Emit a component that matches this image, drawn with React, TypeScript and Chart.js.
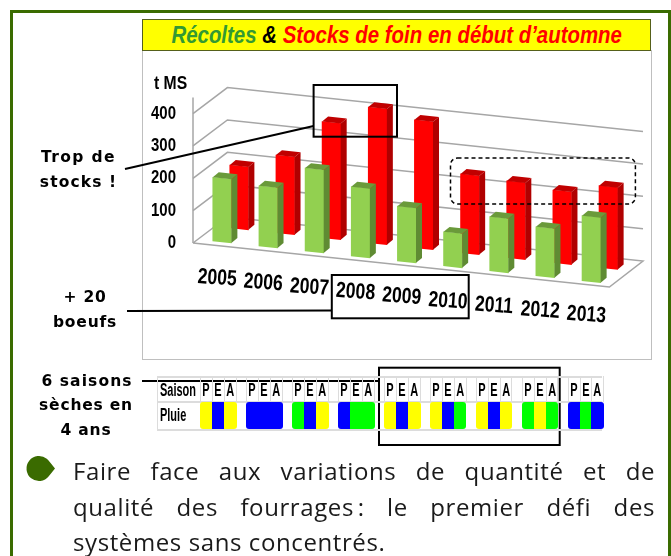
import React, { useEffect, useRef } from "react";
import { Chart, registerables } from "chart.js";

Chart.register(...registerables);

const years = ["2005", "2006", "2007", "2008", "2009", "2010", "2011", "2012", "2013"];
const recoltes = [197, 186, 256, 214, 169, 105, 167, 151, 201];
const stocks = [194, 240, 359, 419, 395, 243, 237, 224, 253];
const saisons = ["P", "E", "A"];
const pluie = [
  ["Y", "B", "Y"],
  ["B", "B", "B"],
  ["G", "B", "Y"],
  ["B", "G", "G"],
  ["Y", "B", "Y"],
  ["Y", "B", "G"],
  ["Y", "B", "Y"],
  ["G", "Y", "G"],
  ["B", "G", "B"],
];
const pluieColors: Record<string, string> = { Y: "#ffff00", B: "#0000ff", G: "#00ff00" };

const SANS = "'Liberation Sans', sans-serif";
const HAND = "'DejaVu Sans', sans-serif";
const SLOPE = 0.1075;
const FRAME = "#3a6b00";

const faces = [
  { side: "#5f8b33", top: "#6a9a3a", dx: 0, dy: -2 },
  { side: "#b00000", top: "#c00000", dx: 17, dy: -15.2 },
];

const boxLine = (ctx: CanvasRenderingContext2D, x0: number, y0: number, x1: number, y1: number) => {
  ctx.beginPath();
  ctx.moveTo(x0, y0);
  ctx.lineTo(x1, y1);
  ctx.stroke();
};

const scene = {
  id: "scene",
  beforeDraw(chart: any) {
    const ctx = chart.ctx;
    ctx.save();
    ctx.fillStyle = "#fff";
    ctx.fillRect(0, 0, 671, 556);
    ctx.fillStyle = FRAME;
    ctx.fillRect(10, 10, 658, 3);
    ctx.fillRect(10, 10, 3, 546);
    ctx.fillRect(668, 10, 3, 546);
    ctx.strokeStyle = "#bfbfbf";
    ctx.lineWidth = 1;
    ctx.strokeRect(142.5, 50.5, 509, 309);
    // bullet
    ctx.fillStyle = FRAME;
    ctx.beginPath();
    ctx.arc(39, 468.5, 12.5, Math.PI * 0.214, Math.PI * 1.786);
    ctx.lineTo(55, 468.5);
    ctx.closePath();
    ctx.fill();
    ctx.restore();
    // condense the axis labels drawn next, around their right edge
    ctx.save();
    ctx.translate(176, 0);
    ctx.scale(0.81, 1);
    ctx.translate(-176, 0);
  },
  beforeDatasetsDraw(chart: any) {
    const ctx = chart.ctx;
    ctx.restore();
    const y = chart.scales.y;
    ctx.save();
    ctx.strokeStyle = "#a6a6a6";
    ctx.lineWidth = 1.5;
    y.ticks.forEach((t: any) => {
      const p = y.getPixelForValue(t.value);
      ctx.beginPath();
      ctx.moveTo(193, p);
      ctx.lineTo(227.4, p - 26);
      ctx.lineTo(643, p + 18);
      if (t.value === 0) {
        ctx.lineTo(609.4, p + 44);
        ctx.lineTo(193, p);
      }
      ctx.stroke();
    });
    boxLine(ctx, 193, y.getPixelForValue(450), 193, y.getPixelForValue(0));
    ctx.restore();
  },
  beforeDatasetDraw(chart: any, args: any) {
    const f = faces[args.index];
    const ctx = chart.ctx;
    ctx.save();
    ctx.transform(1, SLOPE, 0, 1, f.dx, f.dy - SLOPE * 212.8);
  },
  afterDatasetDraw(chart: any, args: any) {
    const f = faces[args.index];
    const ctx = chart.ctx;
    const dX = 6;
    const dY = 5.6;
    args.meta.data.forEach((el: any) => {
      const { x, y, base, width } = el.getProps(["x", "y", "base", "width"], true);
      const l = x - width / 2;
      const r = x + width / 2;
      ctx.fillStyle = f.side;
      ctx.beginPath();
      ctx.moveTo(r, y);
      ctx.lineTo(r + dX, y - dY);
      ctx.lineTo(r + dX, base - dY);
      ctx.lineTo(r, base);
      ctx.closePath();
      ctx.fill();
      ctx.fillStyle = f.top;
      ctx.beginPath();
      ctx.moveTo(l, y);
      ctx.lineTo(r, y);
      ctx.lineTo(r + dX, y - dY);
      ctx.lineTo(l + dX, y - dY);
      ctx.closePath();
      ctx.fill();
    });
    ctx.restore();
  },
  afterDraw(chart: any) {
    const ctx = chart.ctx;
    const xs = chart.scales.x;
    ctx.save();
    // year labels, following the slanted floor
    ctx.fillStyle = "#000";
    ctx.font = `bold 22px ${SANS}`;
    ctx.textAlign = "center";
    ctx.textBaseline = "middle";
    years.forEach((yr, i) => {
      const px = xs.getPixelForValue(i);
      ctx.save();
      ctx.translate(px - 5, 278.3 + 0.0995 * (px - 222));
      ctx.rotate(0.07);
      ctx.scale(0.8, 1);
      ctx.fillText(yr, 0, 0);
      ctx.restore();
    });
    // callouts
    ctx.strokeStyle = "#000";
    ctx.lineWidth = 2;
    ctx.strokeRect(313.6, 85, 83.4, 51.7);
    boxLine(ctx, 125, 169, 313.6, 126);
    ctx.strokeRect(331.8, 275, 136.9, 43.3);
    boxLine(ctx, 127, 311, 331.8, 310.5);
    ctx.strokeRect(379, 367.7, 180.7, 77.3);
    boxLine(ctx, 142, 381, 379, 381);
    ctx.lineWidth = 1.5;
    ctx.setLineDash([4, 3]);
    ctx.beginPath();
    ctx.roundRect(450.5, 158, 184.9, 46, 7);
    ctx.stroke();
    ctx.restore();
  },
};

const abs = (left: number, top: number, width: number, height: number): React.CSSProperties => ({
  position: "absolute",
  left,
  top,
  width,
  height,
});

const note = (text: string, cx: number, cy: number, spacing = 0.8) => (
  <div
    key={text}
    style={{
      position: "absolute",
      left: cx - 70,
      top: cy - 11,
      width: 140,
      height: 22,
      lineHeight: "22px",
      textAlign: "center",
      fontFamily: HAND,
      fontWeight: 700,
      fontSize: 15.5,
      letterSpacing: spacing,
      color: "#000",
    }}
  >
    {text}
  </div>
);

const CELL = 11.9;
const STEP = 45.96;
const T0 = 200;
const ROW_A = 376;
const ROW_B = 402;
const ROW_C = 429;
const GRID = "#dcdcdc";

const narrowLabel: React.CSSProperties = {
  font: `bold 18px/24px ${SANS}`,
  color: "#000",
  transform: "scaleX(0.61)",
  transformOrigin: "0 50%",
  whiteSpace: "nowrap",
};

const Table = () => (
  <>
    <div style={{ ...abs(157, ROW_A, 445, 1.5), background: GRID }} />
    <div style={{ ...abs(157, ROW_B - 1, 445, 1.5), background: GRID }} />
    <div style={{ ...abs(157, ROW_C, 445, 1.5), background: GRID }} />
    <div style={{ ...abs(157, ROW_A, 1, ROW_C - ROW_A), background: GRID }} />
    <div style={{ ...abs(160, ROW_A + 2, 40, 24), ...narrowLabel }}>Saison</div>
    <div style={{ ...abs(160, ROW_B + 1, 40, 24), ...narrowLabel }}>Pluie</div>
    {pluie.map((yr, i) => (
      <React.Fragment key={i}>
        <div style={{ ...abs(T0 + STEP * i + CELL * 3, ROW_A, 1, ROW_B - ROW_A), background: GRID }} />
        {yr.map((c, j) => {
          const left = T0 + STEP * i + CELL * j;
          return (
            <React.Fragment key={j}>
              <div style={{ ...abs(left, ROW_A, 1, ROW_B - ROW_A), background: GRID }} />
              <div
                style={{
                  ...abs(left, ROW_A + 2, CELL, 24),
                  ...narrowLabel,
                  transformOrigin: "50% 50%",
                  textAlign: "center",
                }}
              >
                {saisons[j]}
              </div>
              <div
                style={{
                  ...abs(left, ROW_B, j === 2 ? CELL + 1 : CELL, ROW_C - ROW_B),
                  background: pluieColors[c],
                  borderRadius: j === 0 ? "3px 0 0 3px" : j === 2 ? "0 3px 3px 0" : 0,
                }}
              />
            </React.Fragment>
          );
        })}
      </React.Fragment>
    ))}
  </>
);

const lineStyle = (top: number, justify: boolean): React.CSSProperties => ({
  position: "absolute",
  left: 73,
  top,
  width: 582,
  height: 34,
  lineHeight: "34px",
  fontFamily: "'Open Sans', sans-serif",
  fontSize: 24,
  letterSpacing: 0.6,
  color: "#1a1a1a",
  textAlign: justify ? "justify" : "left",
  textAlignLast: justify ? "justify" : "left",
});

export default function App() {
  const ref = useRef<HTMLCanvasElement>(null);
  useEffect(() => {
    const chart = new Chart(ref.current as HTMLCanvasElement, {
      type: "bar",
      data: {
        labels: years,
        datasets: [
          { label: "Récoltes", data: recoltes, backgroundColor: "#92d050", clip: false } as any,
          { label: "Stocks", data: stocks, backgroundColor: "#ff0000", clip: false } as any,
        ],
      },
      options: {
        responsive: false,
        animation: false,
        datasets: { bar: { grouped: false, barThickness: 18.6 } },
        layout: { padding: { left: 129, right: 56.6, top: 97.4, bottom: 313 } },
        plugins: { legend: { display: false }, tooltip: { enabled: false } },
        scales: {
          x: { display: false, type: "category" },
          y: {
            type: "linear",
            min: 0,
            max: 450,
            afterFit(s: any) {
              s.width = 70;
            },
            grid: { display: false, drawTicks: false },
            border: { display: false },
            ticks: {
              stepSize: 100,
              includeBounds: false,
              autoSkip: false,
              padding: 23,
              color: "#000",
              font: { family: SANS, size: 18.5, weight: "bold" },
            },
          },
        },
      } as any,
      plugins: [scene as any],
    });
    return () => chart.destroy();
  }, []);

  return (
    <div style={{ position: "absolute", left: 0, top: 0, width: 671, height: 556, overflow: "hidden" }}>
      <canvas ref={ref} width={671} height={556} style={{ display: "block" }} />
      <div
        style={{
          ...abs(142, 19, 509, 32),
          boxSizing: "border-box",
          background: "#ffff00",
          border: "1px solid #55601a",
          textAlign: "center",
          font: `italic bold 23px/30px ${SANS}`,
          whiteSpace: "nowrap",
        }}
      >
        <span style={{ display: "inline-block", transform: "scaleX(0.888)" }}>
          <span style={{ color: "#339933" }}>Récoltes</span>
          <span style={{ color: "#000" }}> &amp; </span>
          <span style={{ color: "#ff0000" }}>Stocks de foin en début d’automne</span>
        </span>
      </div>
      <div
        style={{
          ...abs(154, 71, 50, 24),
          font: `bold 18.5px/24px ${SANS}`,
          color: "#000",
          transform: "scaleX(0.85)",
          transformOrigin: "0 50%",
          whiteSpace: "nowrap",
        }}
      >
        t MS
      </div>
      {note("Trop de", 78.5, 157, 1.4)}
      {note("stocks !", 78.5, 182, 1.1)}
      {note("+ 20", 85, 297)}
      {note("boeufs", 85, 322)}
      {note("6 saisons", 87, 381, 1.1)}
      {note("sèches en", 86, 405)}
      {note("4 ans", 86, 430)}
      <Table />
      <div style={lineStyle(454, true)}>Faire face aux variations de quantité et de</div>
      <div style={lineStyle(490, true)}>qualité des fourrages{"\u202f"}: le premier défi des</div>
      <div style={lineStyle(525, false)}>systèmes sans concentrés.</div>
    </div>
  );
}
